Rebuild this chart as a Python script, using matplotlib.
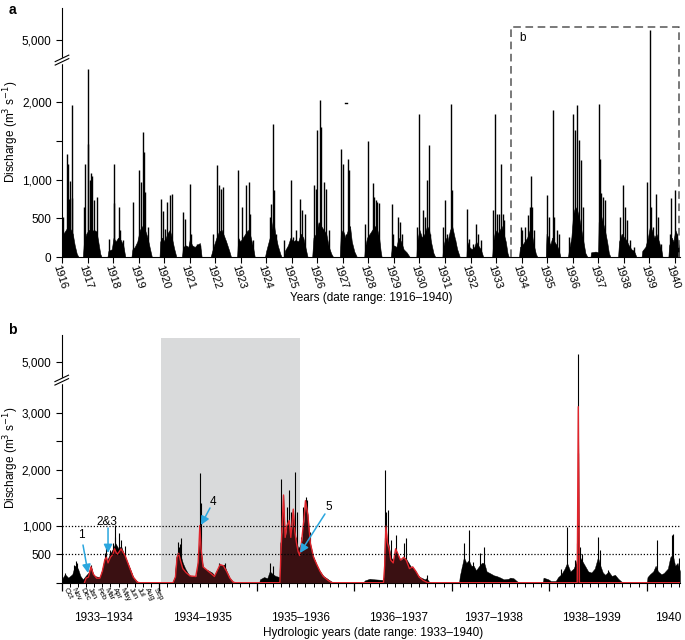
import numpy as np
import matplotlib
matplotlib.use('Agg')
import matplotlib.pyplot as plt
from matplotlib.transforms import ScaledTranslation

plt.rcParams['font.family'] = ['Liberation Sans', 'DejaVu Sans']

# ---------------- panel a: discharge 1916-1940 (decimal years, m3 s-1) ----------------
a_env_t = [1916.00, 1916.05, 1916.15, 1916.25, 1916.35, 1916.42, 1916.50, 1916.58, 1916.65,
           1916.82, 1916.86, 1916.95, 1917.05, 1917.15, 1917.25, 1917.35, 1917.42, 1917.50, 1917.55,
           1917.78, 1917.82, 1917.95, 1918.02, 1918.10, 1918.20, 1918.30, 1918.40, 1918.48,
           1918.72, 1918.76, 1918.85, 1918.95, 1919.05, 1919.15, 1919.25, 1919.35, 1919.45, 1919.52,
           1919.82, 1919.85, 1919.92, 1920.02, 1920.12, 1920.22, 1920.30, 1920.40, 1920.48,
           1920.70, 1920.74, 1920.85, 1920.95, 1921.00, 1921.10, 1921.20, 1921.30, 1921.40, 1921.47,
           1921.82, 1921.88, 1921.95, 1922.05, 1922.15, 1922.25, 1922.35, 1922.45, 1922.55, 1922.62,
           1922.86, 1922.90, 1922.98, 1923.08, 1923.18, 1923.28, 1923.38, 1923.48, 1923.55,
           1923.95, 1924.00, 1924.08, 1924.18, 1924.27, 1924.35, 1924.45, 1924.55, 1924.60,
           1924.70, 1924.73, 1924.85, 1924.95, 1925.05, 1925.15, 1925.25, 1925.35, 1925.45, 1925.55, 1925.62,
           1925.80, 1925.85, 1925.95, 1926.05, 1926.15, 1926.25, 1926.35, 1926.45, 1926.55, 1926.62,
           1926.88, 1926.92, 1927.00, 1927.10, 1927.20, 1927.28, 1927.35, 1927.45, 1927.55,
           1927.84, 1927.87, 1927.95, 1928.05, 1928.15, 1928.25, 1928.35, 1928.42, 1928.48, 1928.52,
           1928.88, 1928.92, 1929.00, 1929.10, 1929.18, 1929.28, 1929.38, 1929.50, 1929.62,
           1929.88, 1929.91, 1930.00, 1930.10, 1930.20, 1930.30, 1930.38, 1930.45, 1930.55, 1930.62,
           1930.90, 1930.93, 1931.02, 1931.10, 1931.20, 1931.28, 1931.38, 1931.48, 1931.58,
           1931.84, 1931.87, 1931.95, 1932.05, 1932.15, 1932.22, 1932.30, 1932.40, 1932.50,
           1932.85, 1932.89, 1932.97, 1933.05, 1933.15, 1933.22, 1933.30, 1933.38, 1933.45, 1933.50,
           1933.90, 1933.94, 1934.02, 1934.12, 1934.22, 1934.32, 1934.40, 1934.48, 1934.56, 1934.62,
           1934.95, 1934.98, 1935.05, 1935.12, 1935.20, 1935.28, 1935.38, 1935.45, 1935.52,
           1935.82, 1935.86, 1935.95, 1936.02, 1936.10, 1936.18, 1936.26, 1936.34, 1936.42, 1936.50, 1936.58,
           1936.70, 1936.72, 1936.90, 1937.00, 1937.02, 1937.10, 1937.18, 1937.26, 1937.35, 1937.42, 1937.48,
           1937.78, 1937.82, 1937.92, 1938.02, 1938.10, 1938.20, 1938.30, 1938.40, 1938.50,
           1938.70, 1938.73, 1938.85, 1938.95, 1939.03, 1939.10, 1939.20, 1939.28, 1939.38, 1939.48, 1939.52,
           1939.75, 1939.78, 1939.88, 1939.95, 1940.02, 1940.08, 1940.12, 1940.17]
a_env_q = [200, 300, 350, 400, 350, 300, 150, 40, 0,
           0, 200, 300, 350, 330, 350, 330, 200, 40, 0,
           0, 80, 100, 250, 200, 250, 220, 150, 0,
           0, 100, 130, 200, 350, 400, 350, 250, 100, 0,
           0, 200, 250, 200, 300, 350, 250, 100, 0,
           0, 130, 150, 130, 220, 150, 130, 160, 180, 0,
           0, 70, 150, 250, 330, 350, 270, 180, 80, 0,
           0, 250, 200, 250, 300, 350, 270, 130, 0,
           0, 80, 180, 300, 500, 300, 150, 40, 0,
           0, 80, 150, 250, 200, 220, 200, 300, 250, 100, 0,
           0, 250, 300, 450, 400, 350, 300, 130, 40, 0,
           0, 300, 350, 250, 350, 400, 200, 70, 0,
           0, 130, 250, 300, 350, 400, 350, 250, 80, 0,
           0, 130, 150, 130, 250, 200, 100, 60, 0,
           0, 200, 350, 250, 300, 400, 350, 200, 50, 0,
           0, 130, 250, 200, 350, 400, 250, 100, 0,
           0, 200, 130, 100, 130, 200, 150, 100, 0,
           0, 200, 350, 300, 350, 400, 300, 200, 50, 0,
           0, 130, 150, 200, 250, 350, 300, 150, 40, 0,
           0, 300, 250, 150, 250, 200, 150, 100, 0,
           0, 100, 250, 550, 650, 600, 500, 350, 200, 50, 0,
           0, 60, 70, 60, 450, 550, 450, 350, 200, 50, 0,
           0, 200, 300, 250, 220, 150, 100, 80, 0,
           0, 80, 130, 250, 400, 350, 250, 300, 200, 80, 0,
           0, 150, 250, 200, 350, 300, 200, 130]

a_peak_t = [1916.05, 1916.18, 1916.22, 1916.26, 1916.30, 1916.38, 1916.41,
            1916.87, 1916.91, 1917.00, 1917.03, 1917.08, 1917.13, 1917.18, 1917.26, 1917.37,
            1917.83, 1918.03, 1918.05, 1918.22, 1918.29, 1918.39,
            1918.78, 1919.00, 1919.08, 1919.16, 1919.20, 1919.26, 1919.37,
            1919.87, 1919.95, 1920.03, 1920.13, 1920.23, 1920.29,
            1920.74, 1920.83, 1921.00, 1921.05, 1921.29, 1921.42,
            1921.91, 1922.08, 1922.14, 1922.21, 1922.29, 1922.40,
            1922.90, 1923.05, 1923.21, 1923.31, 1923.38, 1923.47,
            1924.13, 1924.17, 1924.26, 1924.30, 1924.39,
            1924.71, 1924.95, 1925.05, 1925.17, 1925.34, 1925.40, 1925.50,
            1925.87, 1925.93, 1926.00, 1926.10, 1926.16, 1926.26, 1926.33, 1926.46,
            1926.93, 1927.00, 1927.12, 1927.22, 1927.26,
            1927.87, 1928.00, 1928.17, 1928.22, 1928.30, 1928.35, 1928.43,
            1928.91, 1928.96, 1929.17, 1929.25, 1929.33,
            1929.91, 1930.00, 1930.13, 1930.22, 1930.30, 1930.37, 1930.43,
            1930.93, 1931.01, 1931.09, 1931.23, 1931.27, 1931.39,
            1931.87, 1931.96, 1932.09, 1932.20, 1932.29, 1932.42,
            1932.90, 1932.96, 1933.03, 1933.12, 1933.20, 1933.26, 1933.33,
            1933.96, 1934.03, 1934.13, 1934.26, 1934.33, 1934.37, 1934.42, 1934.50,
            1935.00, 1935.07, 1935.22, 1935.26, 1935.39, 1935.46,
            1935.87, 1936.00, 1936.09, 1936.17, 1936.25, 1936.31, 1936.39,
            1937.03, 1937.07, 1937.13, 1937.20, 1937.26,
            1937.84, 1937.97, 1938.07, 1938.13, 1938.26, 1938.39,
            1938.93, 1939.04, 1939.07, 1939.13, 1939.26, 1939.33, 1939.46,
            1939.80, 1939.87, 1940.00, 1940.07]
a_peak_q = [520, 1330, 1200, 750, 980, 1960, 760,
            645, 1200, 2430, 1460, 990, 1090, 1050, 730, 775,
            237, 1200, 700, 645, 344, 215,
            710, 1118, 968, 1613, 1355, 839, 387,
            753, 594, 366, 710, 796, 817,
            581, 495, 946, 301, 172, 150,
            301, 1183, 925, 882, 903, 215,
            1118, 645, 925, 968, 559, 215,
            516, 688, 1712, 860, 301,
            215, 989, 258, 344, 753, 602, 559,
            925, 882, 1634, 2022, 1677, 968, 882, 344,
            1398, 1204, 300, 1269, 1118,
            430, 1492, 955, 774, 731, 710, 697,
            688, 301, 516, 452, 301,
            387, 1849, 602, 516, 989, 1441, 301,
            387, 731, 301, 1970, 860, 215,
            624, 237, 172, 421, 301, 215,
            602, 1841, 559, 559, 1204, 559, 473,
            387, 344, 387, 538, 645, 1045, 645, 344,
            796, 516, 1892, 516, 344, 301,
            258, 1849, 1634, 1957, 1505, 1250, 645,
            1970, 1269, 826, 774, 731,
            516, 925, 645, 473, 215, 130,
            968, 6200, 645, 387, 817, 516, 172,
            301, 765, 860, 301]

a_years = list(range(1916, 1941))
a_yticks = [0, 500, 1000, 1500, 2000, 5000]
a_ytick_labels = ['0', '500', '1,000', '', '2,000', '5,000']

# ---------------- panel b: months since 1 Oct 1933 ----------------
b_obs_t = [0.0, 0.4, 0.8, 1.3, 1.6, 2.0, 2.3, 2.6, 3.0, 3.3, 3.6, 3.9, 4.7, 5.0, 5.3, 5.6, 5.9, 6.3,
           6.6, 7.0, 7.3, 7.8, 8.4, 8.8, 9.3, 9.6,
           13.6, 13.9, 14.1, 14.3, 14.6, 14.9, 15.2, 15.6, 16.0, 16.6, 16.8, 17.0, 17.2, 17.4, 18.0,
           18.5, 18.8, 19.2, 19.5, 20.0, 20.3, 20.7, 21.1, 21.4,
           24.3, 24.4, 24.9, 25.3, 25.6, 26.0, 26.3, 26.8, 26.9, 27.2, 27.6, 28.0, 28.4, 28.8, 29.1,
           29.5, 29.9, 30.2, 30.6, 31.0, 31.4, 31.8, 32.2, 32.8, 33.2, 33.6,
           37.1, 37.3, 37.9, 38.5, 39.5, 39.66, 39.75, 40.0, 40.2, 40.5, 40.8, 41.1, 41.5, 41.8, 42.1,
           42.4, 42.9, 43.3, 43.7, 44.1, 44.7, 44.9, 45.2, 45.5,
           48.9, 49.0, 49.2, 49.5, 49.8, 50.1, 50.4, 50.7, 51.0, 51.4, 51.7, 52.0, 52.3, 52.7, 53.2,
           53.5, 54.0, 54.4, 55.0, 55.2, 55.6, 56.0, 56.3,
           59.2, 59.3, 59.9, 60.2, 60.8, 61.1, 61.5, 61.9, 62.2, 62.6, 63.0, 63.3, 63.55, 63.8, 64.0,
           64.4, 64.8, 65.2, 65.6, 66.0, 66.3, 66.6, 66.9, 67.3, 67.7, 68.1, 68.5, 68.9, 69.1,
           72.0, 72.1, 72.4, 72.8, 73.1, 73.4, 73.8, 74.1, 74.6, 74.9, 75.2, 75.5, 75.8, 76.1]
b_obs_q = [60, 150, 90, 150, 300, 250, 120, 60, 130, 180, 300, 120, 100, 250, 450, 400, 500, 600,
           700, 600, 650, 450, 250, 100, 20, 0,
           0, 100, 450, 550, 500, 350, 250, 150, 100, 110, 500, 700, 450, 250, 220,
           180, 130, 250, 300, 320, 200, 80, 15, 0,
           0, 60, 100, 80, 200, 150, 120, 100, 700, 900, 800, 900, 850, 800, 600,
           700, 800, 750, 600, 450, 300, 200, 120, 60, 20, 0,
           0, 40, 70, 60, 50, 100, 800, 650, 700, 450, 400, 550, 450, 380, 450,
           420, 300, 220, 150, 100, 60, 80, 20, 0,
           0, 120, 250, 450, 350, 400, 300, 300, 220, 300, 350, 350, 200, 170, 130,
           120, 90, 60, 70, 90, 80, 30, 0,
           0, 90, 60, 30, 30, 100, 150, 250, 350, 200, 250, 350, 500, 450, 400,
           300, 200, 180, 250, 450, 300, 180, 140, 200, 120, 140, 70, 20, 0,
           0, 100, 150, 200, 300, 200, 150, 170, 250, 450, 500, 300, 350, 200]

b_peak_t = [0.4, 1.5, 1.7, 1.9, 3.6, 5.3, 5.5, 5.95, 6.3, 6.5, 6.6, 7.1, 7.3, 7.8,
            14.27, 14.43, 14.55, 14.68, 16.81, 17.06, 17.1, 19.3, 19.5, 20.1,
            25.64, 26.05, 26.95, 27.28, 27.69, 28.02, 28.23, 28.43, 28.72, 28.92, 29.46, 29.74,
            30.03, 30.24, 30.56,
            39.79, 39.91, 40.2, 40.48, 41.14, 42.13, 42.33, 44.92,
            49.23, 49.51, 50.17, 50.66, 51.48, 52.01,
            61.5, 62.15, 63.18, 63.46, 63.5, 63.6, 63.79, 64.0, 66.05, 66.25, 67.28,
            73.23, 75.07, 75.2, 76.0]
b_peak_q = [165, 312, 390, 340, 312, 520, 640, 580, 700, 1020, 810, 870, 750, 640,
            724, 636, 690, 783, 548, 1930, 1400, 340, 320, 340,
            340, 290, 1840, 1550, 1340, 1640, 1250, 1280, 1960, 1250, 810, 1340,
            1520, 1460, 900,
            1990, 1255, 1284, 754, 842, 695, 783, 135,
            283, 695, 930, 371, 518, 636,
            250, 990, 400, 700, 2290, 5700, 636, 500, 813, 577, 224,
            754, 842, 860, 436]

b_sim_t = [2.8, 3.0, 3.3, 3.6, 3.9, 4.3, 4.7, 5.0, 5.3, 5.5, 5.7, 6.0, 6.3, 6.5, 6.8, 7.1, 7.3,
           7.8, 8.4, 8.8, 9.3, 9.6,
           13.7, 14.0, 14.2, 14.4, 14.6, 14.9, 15.3, 15.8, 16.5, 16.8, 17.0, 17.15, 17.4, 17.9, 18.4,
           18.8, 19.1, 19.5, 19.9, 20.3, 20.7, 21.1, 21.4,
           26.85, 27.0, 27.3, 27.5, 27.7, 28.0, 28.2, 28.5, 28.7, 28.9, 29.1, 29.3, 29.5, 29.8, 30.0,
           30.3, 30.6, 31.0, 31.4, 31.8, 32.2, 32.8, 33.2, 33.4,
           39.6, 39.75, 39.9, 40.1, 40.3, 40.5, 40.8, 41.1, 41.4, 41.7, 42.1, 42.4, 42.8, 43.2, 43.6,
           44.0, 44.5, 45.0, 45.2,
           63.45, 63.58, 63.72, 76.1]
b_sim_q = [0, 80, 100, 280, 150, 80, 80, 200, 400, 450, 350, 450, 500, 600, 500, 550, 600,
           480, 250, 100, 10, 0,
           0, 100, 450, 520, 400, 250, 180, 120, 110, 350, 1010, 600, 280, 220, 160,
           110, 200, 320, 300, 200, 80, 10, 0,
           0, 600, 1550, 800, 1000, 1100, 800, 1300, 900, 700, 550, 480, 700, 1100, 1450,
           1200, 700, 450, 320, 200, 110, 40, 5, 0,
           0, 300, 1000, 700, 600, 400, 350, 600, 500, 400, 450, 400, 250, 280, 200,
           100, 40, 5, 0,
           0, 3110, 0, 0]

b_months = ['Oct', 'Nov', 'Dec', 'Jan', 'Feb', 'Mar', 'Apr', 'May', 'Jun', 'Jul', 'Aug', 'Sep']
b_year_labels = ['1933\u20131934', '1934\u20131935', '1935\u20131936', '1936\u20131937',
                 '1937\u20131938', '1938\u20131939', '1940']
b_year_label_pos = [5.2, 17.3, 29.4, 41.4, 53.1, 65.2, 74.6]
b_yticks = [0, 500, 1000, 1500, 2000, 2500, 3000, 5000]
b_ytick_labels = ['', '500', '1,000', '', '2,000', '', '3,000', '5,000']
b_notes = ['1', '2&3', '4', '5']
b_note_text = [(2.46, 843), (5.61, 1078), (18.58, 1426), (32.9, 1337)]
b_note_tail = [(2.62, 666), (5.7, 966), (18.25, 1320), (32.4, 1215)]
b_note_head = [(3.24, 171), (5.7, 525), (17.14, 1020), (29.33, 525)]


def broken(low_top, squeeze):
    def fwd(y):
        y = np.asarray(y, float)
        return np.where(y <= low_top, y, low_top + (y - low_top) * squeeze)

    def inv(t):
        t = np.asarray(t, float)
        return np.where(t <= low_top, t, low_top + (t - low_top) / squeeze)
    return fwd, inv


def break_marks(ax, yc):
    # two slanted strokes across the y spine, with the spine cut between them
    ax.plot([0, 0], [yc - 0.006, yc + 0.006], transform=ax.transAxes, color='white',
            lw=2.5, clip_on=False, zorder=10)
    for dy in (-0.007, 0.007):
        ax.plot([-0.011, 0.011], [yc + dy - 0.013, yc + dy + 0.013], transform=ax.transAxes,
                color='black', lw=0.8, clip_on=False, zorder=11)


fig = plt.figure(figsize=(6.85, 6.4), dpi=100)

# ---------------- panel a ----------------
ax1 = fig.add_axes([0.0905, 0.5984, 0.902, 0.389])
ax1.set_yscale('function', functions=broken(2540, 0.1057))
ax1.fill_between(a_env_t, a_env_q, 0, color='black', lw=0.4, zorder=2)
ax1.vlines(a_peak_t, 0, a_peak_q, color='black', lw=1.0, zorder=2)
ax1.plot([1927.08, 1927.16], [1990, 1990], color='black', lw=1.0)
ax1.plot([1933.57, 1933.57, 1940.17, 1940.17], [0, 6550, 6550, 0], color='#555555',
         lw=1.1, ls=(0, (5, 3)), clip_on=False, zorder=3)
ax1.text(1933.9, 5250, 'b', fontsize=8.5, va='center')
ax1.set_xlim(1916, 1940.2)
ax1.set_ylim(0, 8900)
ax1.set_yticks(a_yticks)
ax1.set_yticklabels(a_ytick_labels)
ax1.set_xticks(a_years)
ax1.set_xticklabels([str(y) for y in a_years], rotation=-72, ha='left', va='center',
                    rotation_mode='anchor')
ax1.tick_params(axis='y', labelsize=8.5, length=4, width=0.8, direction='out')
ax1.tick_params(axis='x', labelsize=8, length=4, width=0.8, direction='out', pad=2)
shift = ScaledTranslation(-4 / 72, 0, fig.dpi_scale_trans)
for lab in ax1.get_xticklabels():
    lab.set_transform(lab.get_transform() + shift)
for s in ['top', 'right']:
    ax1.spines[s].set_visible(False)
for s in ['left', 'bottom']:
    ax1.spines[s].set_linewidth(0.8)
break_marks(ax1, 0.791)
fig.text(0.017, 1 - 132 / 640, 'Discharge (m$^3$ s$^{-1}$)', fontsize=8.5, rotation=90,
         ha='center', va='center')
fig.text(0.542, 0.534, 'Years (date range: 1916\u20131940)', fontsize=8.5, ha='center', va='center')
fig.text(0.012, 0.984, 'a', fontsize=10, fontweight='bold', va='center')

# ---------------- panel b ----------------
ax2 = fig.add_axes([0.0901, 0.0895, 0.9026, 0.387])
ax2.set_yscale('function', functions=broken(3580, 0.221))
ax2.axvspan(12.2, 29.3, ymax=0.99, color='#d9dadb', lw=0, zorder=0)
ax2.fill_between(b_obs_t, b_obs_q, 0, color='black', lw=0.3, zorder=2)
ax2.vlines(b_peak_t, 0, b_peak_q, color='black', lw=0.8, zorder=2)
ax2.fill_between(b_sim_t, b_sim_q, 0, color='#3a1012', lw=0, zorder=3)
ax2.plot(b_sim_t, b_sim_q, color='#e0252c', lw=1.0, zorder=5)
for lvl in (500, 1000):
    ax2.axhline(lvl, color='black', lw=0.9, ls=(0, (1, 1.5)), zorder=6)
for lab, tp, tl, hd in zip(b_notes, b_note_text, b_note_tail, b_note_head):
    ax2.annotate('', xy=hd, xytext=tl, zorder=8,
                 arrowprops=dict(arrowstyle='-|>,head_length=0.5,head_width=0.25',
                                 color='#2aa6de', lw=1.1, shrinkA=0, shrinkB=0))
    ax2.text(tp[0], tp[1], lab, fontsize=8.5, ha='center', va='center', zorder=8)
ax2.set_xlim(0, 76.1)
ax2.set_ylim(0, 7180)
ax2.set_yticks(b_yticks)
ax2.set_yticklabels(b_ytick_labels)
ax2.set_xticks(range(0, 73, 12))
ax2.set_xticks(np.arange(0, 77), minor=True)
ax2.set_xticklabels([])
ax2.tick_params(axis='y', labelsize=8.5, length=4, width=0.8)
ax2.tick_params(axis='x', which='major', length=6, width=0.9)
ax2.tick_params(axis='x', which='minor', length=3, width=0.7)
for s in ['top', 'right']:
    ax2.spines[s].set_visible(False)
for s in ['left', 'bottom']:
    ax2.spines[s].set_linewidth(0.8)
break_marks(ax2, 0.818)
fig.text(0.017, 1 - 458 / 640, 'Discharge (m$^3$ s$^{-1}$)', fontsize=8.5, rotation=90,
         ha='center', va='center')
xt = ax2.get_xaxis_transform()
for i, m in enumerate(b_months):
    ax2.text(i + 0.4, -0.022, m, transform=xt, fontsize=5.5, rotation=-62,
             ha='left', va='center', rotation_mode='anchor')
for pos, lab in zip(b_year_label_pos, b_year_labels):
    ax2.text(pos, -0.1425, lab, transform=xt, fontsize=8.5, ha='center', va='center')
fig.text(0.545, 0.011, 'Hydrologic years (date range: 1933\u20131940)', fontsize=8.5,
         ha='center', va='center')
fig.text(0.012, 0.484, 'b', fontsize=10, fontweight='bold', va='center')

fig.savefig('out.png', dpi=100)
